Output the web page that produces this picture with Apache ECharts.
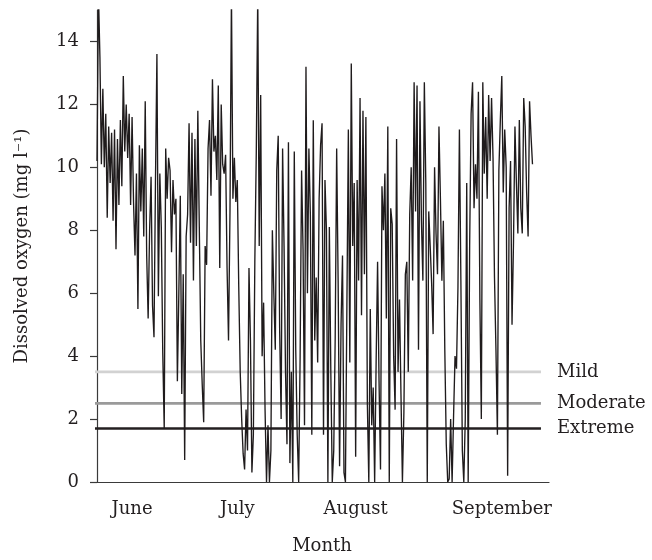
<!DOCTYPE html>
<html><head><meta charset="utf-8">
<script src="https://cdn.jsdelivr.net/npm/echarts@6/dist/echarts.min.js"></script>
<style>html,body{margin:0;padding:0;background:#fff}#c{width:652px;height:560px}</style>
</head><body><div id="c"></div>
<script>
// Dissolved oxygen (mg/l), one value per sample
const oxygen = [
  10.2,15.5,13.5,10.1,12.5,10.0,11.7,8.4,11.3,9.5,11.1,8.3,11.2,7.4,10.9,8.8,11.5,9.4,12.9,10.5,
  12.0,10.3,11.7,8.8,11.6,8.9,7.2,9.8,5.5,10.7,8.6,10.6,7.8,12.1,7.2,5.2,8.0,9.7,
  5.6,4.6,9.5,13.6,5.9,9.8,8.1,4.1,1.7,10.6,9.0,10.3,9.9,7.3,9.6,8.5,9.0,3.2,6.0,9.1,2.8,6.6,
  0.7,7.8,8.5,11.4,7.6,11.1,6.4,10.9,7.5,11.8,8.1,4.5,3.1,1.9,7.5,
  6.9,10.6,11.5,9.1,12.8,10.5,11.0,9.6,12.6,6.8,12.0,10.1,9.8,10.4,6.8,4.5,8.6,15.5,9.0,10.3,
  8.9,9.6,6.2,3.5,2.0,0.9,0.4,2.3,1.0,6.8,4.5,0.3,1.5,7.0,10.5,15.5,7.5,12.3,
  4.0,5.7,2.3,0.0,1.8,0.0,1.0,8.0,6.0,4.2,9.9,11.0,4.8,2.0,10.6,7.5,3.5,1.2,10.8,0.6,
  3.5,0.0,10.5,4.2,1.5,0.0,4.0,9.9,7.4,1.8,13.2,6.0,10.6,8.5,1.5,11.5,4.5,
  6.5,3.8,9.0,10.7,11.4,1.5,9.6,8.0,0.0,8.1,3.5,0.0,1.0,4.6,10.6,6.4,0.5,5.0,7.2,0.3,
  0.0,5.6,11.2,3.8,13.3,7.5,9.5,0.8,9.6,6.4,12.2,5.3,11.8,6.6,11.6,2.5,0.0,5.5,
  1.8,3.0,0.0,3.8,7.0,3.2,0.4,9.4,8.0,9.8,5.2,11.3,0.0,8.7,8.2,4.0,2.3,10.9,3.5,5.8,
  2.8,0.0,2.2,6.6,7.0,3.5,8.5,10.0,6.4,12.7,8.6,12.6,4.2,12.1,8.3,6.4,12.7,9.5,
  0.0,8.6,7.5,6.3,4.7,10.0,7.9,6.6,11.3,9.0,6.4,8.3,4.2,1.2,0.0,0.1,2.0,0.0,2.1,4.0,
  3.6,6.2,11.2,6.4,1.0,0.0,2.0,9.5,0.0,7.5,11.7,12.7,8.7,10.1,9.0,12.4,5.8,2.0,
  12.7,9.8,11.6,9.0,12.3,10.2,12.2,10.3,6.5,4.2,1.5,9.9,11.5,12.9,9.2,11.2,10.0,0.2,8.7,10.2,
  5.0,7.6,11.3,9.5,7.9,11.5,8.7,7.9,12.2,11.3,9.2,7.8,12.1,11.0,10.1
];
// month labels and their positions on the sample axis
const monthLabels = ['June', 'July', 'August', 'September'];
const monthPositions = [24, 96, 177, 277];
// y tick values
const yTicks = [0, 2, 4, 6, 8, 10, 12, 14];
// hypoxia thresholds
const thresholdNames = ['Mild', 'Moderate', 'Extreme'];
const thresholdValues = [3.5, 2.5, 1.7];
const thresholdEnd = 303.8;

const FONT = 'DejaVu Serif';
const TXT = '#231f20';
const thresholdColors = ['#d2d2d2', '#9a9a9a', '#231f20'];

const chart = echarts.init(document.getElementById('c'), null, {renderer: 'canvas'});

const thresholdSeries = thresholdNames.map((n, k) => ({
  name: n,
  type: 'line',
  data: [[-1.37, thresholdValues[k]], [thresholdEnd, thresholdValues[k]]],
  symbol: 'none',
  silent: true,
  z: 1,
  lineStyle: {color: thresholdColors[k], width: 2.6},
  endLabel: {show: true, formatter: n, color: TXT, fontFamily: FONT, fontSize: 18, distance: 16}
}));

chart.setOption({
  animation: false,
  backgroundColor: '#fff',
  grid: {left: 95, right: 103, top: 10, bottom: 77, containLabel: false},
  xAxis: {
    type: 'value', min: -1.37, max: 309.3,
    name: 'Month', nameLocation: 'middle', nameGap: 55,
    nameTextStyle: {fontFamily: FONT, fontSize: 18, color: TXT},
    axisLine: {show: true, onZero: false, lineStyle: {color: '#3a3a3a', width: 1.2}},
    axisTick: {show: false},
    splitLine: {show: false},
    axisLabel: {
      customValues: monthPositions,
      formatter: v => monthLabels[monthPositions.indexOf(v)] || '',
      fontFamily: FONT, fontSize: 18, color: TXT, margin: 18
    }
  },
  yAxis: {
    type: 'value', min: 0, max: 15,
    name: 'Dissolved oxygen (mg l\u207B\u00B9)', nameLocation: 'middle', nameGap: 64,
    nameTextStyle: {fontFamily: FONT, fontSize: 18, color: TXT},
    axisLine: {show: true, lineStyle: {color: '#3a3a3a', width: 1.2}},
    axisTick: {show: true, length: 7, customValues: yTicks, lineStyle: {color: '#3a3a3a', width: 1.2}},
    splitLine: {show: false},
    axisLabel: {customValues: yTicks, fontFamily: FONT, fontSize: 18, color: TXT, margin: 16}
  },
  series: thresholdSeries.concat([{
    name: 'DO',
    type: 'line',
    data: oxygen.map((v, i) => [i, v]),
    symbol: 'none',
    z: 3,
    clip: true,
    lineStyle: {color: '#1f1b1c', width: 1.35}
  }])
});
</script>
</body></html>
